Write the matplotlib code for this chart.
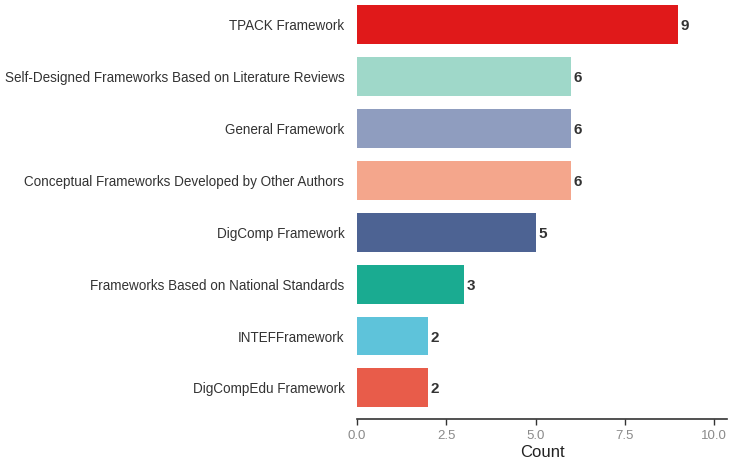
import matplotlib
matplotlib.use("Agg")
import matplotlib.pyplot as plt

categories = ["DigCompEdu Framework", "INTEFFramework", "Frameworks Based on National Standards",
              "DigComp Framework", "Conceptual Frameworks Developed by Other Authors",
              "General Framework", "Self-Designed Frameworks Based on Literature Reviews",
              "TPACK Framework"]
counts = [2, 2, 3, 5, 6, 6, 6, 9]
colors = ["#E85C4A", "#5EC3DA", "#1AAB91", "#4D6393", "#F4A68C", "#8F9DBF", "#9FD8C9", "#E0191A"]
xticks = [0.0, 2.5, 5.0, 7.5, 10.0]

plt.rcParams['font.family'] = ['Liberation Sans', 'DejaVu Sans']

fig = plt.figure(figsize=(7.38, 4.63), dpi=100)
ax = fig.add_axes([0.4837, 0.095, 0.985 - 0.4837, 0.905])

ypos = list(range(len(categories)))
ax.barh(ypos, counts, height=0.75, color=colors)
for y, c in zip(ypos, counts):
    ax.text(c + 0.07, y, str(c), va='center_baseline', ha='left', fontsize=11,
            fontweight='bold', color='#333333')

ax.set_xlim(0, 10.36)
ax.set_ylim(-0.6, 7.48)
ax.set_yticks(ypos)
ax.set_yticklabels(categories, fontsize=9.75, color='#333333')
ax.set_xticks(xticks)
ax.set_xticklabels([f"{t:.1f}" for t in xticks], fontsize=9.5, color='#8a8a8a')
ax.tick_params(axis='y', length=0, pad=9)
ax.tick_params(axis='x', length=4, width=1, color='#333333', pad=4)
for s in ['top', 'right', 'left']:
    ax.spines[s].set_visible(False)
ax.spines['bottom'].set_color('#333333')
ax.spines['bottom'].set_linewidth(1.2)
ax.set_xlabel("Count", fontsize=12, color='#222222', labelpad=2)

fig.savefig("out.png", dpi=100)
